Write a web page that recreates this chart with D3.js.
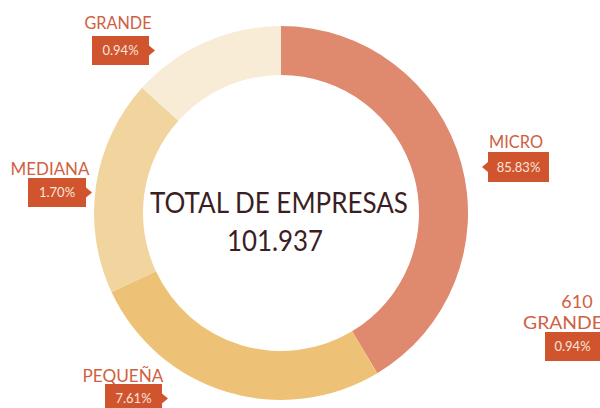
<!DOCTYPE html>
<html>
<head>
<meta charset="utf-8">
<script src="https://cdn.jsdelivr.net/npm/d3@7"></script>
<style>
  html, body { margin: 0; padding: 0; background: #fff; }
  svg { display: block; }
</style>
</head>
<body>
<div class="donut-container"></div>
<script>
// categories and their shares
const categories = ['MICRO', 'PEQUEÑA', 'MEDIANA', 'GRANDE'];
const percentLabels = ['85.83%', '7.61%', '1.70%', '0.94%'];
// ring segments as drawn in the original graphic (degrees, not proportional to the %)
const arcDegrees = [149, 96, 67, 48];
const sliceColors = ['#df8a6f', '#edc276', '#f2d49f', '#f9ecd7'];

const totalTitle = 'TOTAL DE EMPRESAS';
const totalValue = '101.937';

// stray callout on the right side of the original
const extraCount = '610';
const extraCategory = 'GRANDE';
const extraPercent = '0.94%';

const width = 600;
const height = 408;
const center = { x: 281, y: 213 };
const outerRadius = 187;
const innerRadius = 138;
const labelColor = '#d0603f';
const boxColor = '#d0552f';
const boxTextColor = '#f7e6da';
const font = 'Lato, "Open Sans", sans-serif';

// where each callout sits: label position + width, box rect, pointer side
const callouts = [
  { label: [516, 148, 54], box: [488, 152, 61, 30], pointer: 'left' },
  { label: [123, 382, 81], box: [105, 384, 57, 29], pointer: 'right' },
  { label: [50, 175, 79], box: [28, 178, 58, 29], pointer: 'right' },
  { label: [118, 29, 67], box: [92, 36, 57, 29], pointer: 'right' }
];

const svg = d3.select('.donut-container')
  .append('svg')
  .attr('width', width)
  .attr('height', height)
  .attr('xmlns', 'http://www.w3.org/2000/svg');

const data = categories.map((c, i) => ({
  category: c,
  percent: percentLabels[i],
  deg: arcDegrees[i],
  color: sliceColors[i]
}));

function drawDonut() {
  const pie = d3.pie()
    .value(d => d.deg)
    .sort(null);
  const arc = d3.arc()
    .innerRadius(innerRadius)
    .outerRadius(outerRadius);

  svg.append('g')
    .attr('class', 'donut')
    .attr('transform', `translate(${center.x}, ${center.y})`)
    .selectAll('path')
    .data(pie(data))
    .join('path')
    .attr('d', arc)
    .attr('fill', d => d.data.color);
}

function drawTotal() {
  const g = svg.append('g')
    .attr('class', 'total')
    .attr('fill', '#3b1e23')
    .attr('font-family', font)
    .attr('text-anchor', 'middle');
  g.append('text')
    .attr('x', 279)
    .attr('y', 213)
    .attr('font-size', 28)
    .attr('textLength', 258)
    .attr('lengthAdjust', 'spacingAndGlyphs')
    .text(totalTitle);
  g.append('text')
    .attr('x', 275)
    .attr('y', 251)
    .attr('font-size', 28)
    .attr('textLength', 96)
    .attr('lengthAdjust', 'spacingAndGlyphs')
    .text(totalValue);
}

function tagPath(x, y, w, h, side) {
  const my = y + h / 2;
  if (side === 'left') {
    return `M${x},${y}H${x + w}V${y + h}H${x}V${my + 5}L${x - 6},${my}L${x},${my - 5}Z`;
  }
  return `M${x},${y}H${x + w}V${my - 5}L${x + w + 6},${my}L${x + w},${my + 5}V${y + h}H${x}Z`;
}

function drawTag(g, box, side, text) {
  const [x, y, w, h] = box;
  g.append('path')
    .attr('d', tagPath(x, y, w, h, side))
    .attr('fill', boxColor);
  g.append('text')
    .attr('x', x + w / 2)
    .attr('y', y + h / 2 + 4.5)
    .attr('text-anchor', 'middle')
    .attr('font-size', 13)
    .attr('fill', boxTextColor)
    .text(text);
}

function drawCallouts() {
  const container = svg.append('g')
    .attr('class', 'callouts')
    .attr('font-family', font);

  data.forEach((d, i) => {
    const c = callouts[i];
    const g = container.append('g').attr('class', 'callout');
    g.append('text')
      .attr('x', c.label[0])
      .attr('y', c.label[1])
      .attr('text-anchor', 'middle')
      .attr('font-size', 17)
      .attr('textLength', c.label[2])
      .attr('lengthAdjust', 'spacingAndGlyphs')
      .attr('fill', labelColor)
      .text(d.category);
    drawTag(g, c.box, c.pointer, d.percent);
  });

  // extra callout on the right edge
  const g = container.append('g').attr('class', 'callout-extra');
  g.append('text')
    .attr('x', 577)
    .attr('y', 308)
    .attr('text-anchor', 'middle')
    .attr('font-size', 18)
    .attr('fill', labelColor)
    .text(extraCount);
  g.append('text')
    .attr('x', 523)
    .attr('y', 329)
    .attr('font-size', 18)
    .attr('textLength', 80)
    .attr('lengthAdjust', 'spacingAndGlyphs')
    .attr('fill', labelColor)
    .text(extraCategory);
  drawTag(g, [545, 332, 55, 29], 'right', extraPercent);
}

drawDonut();
drawTotal();
drawCallouts();
</script>
</body>
</html>
